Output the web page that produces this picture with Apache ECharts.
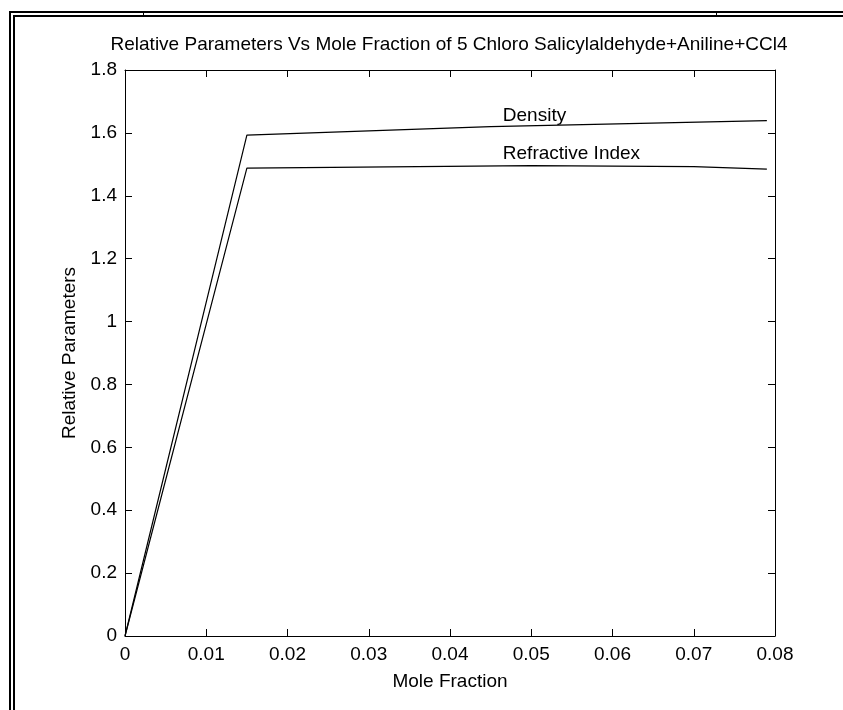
<!DOCTYPE html>
<html>
<head>
<meta charset="utf-8">
<script src="https://cdn.jsdelivr.net/npm/echarts@6/dist/echarts.min.js"></script>
<style>
  html, body { margin: 0; padding: 0; background: #fff; }
  #chart { width: 843px; height: 710px; }
</style>
</head>
<body>
<div id="chart"></div>
<script>
(function () {
    // data
    var moleFraction = [0, 0.015, 0.045, 0.079];
    var density = [0, 1.593, 1.620, 1.639];
    var riFraction = [0, 0.015, 0.05, 0.07, 0.079];
    var refractiveIndex = [0, 1.488, 1.496, 1.493, 1.485];
    // text annotations (data coordinates)
    var noteText = ['Density', 'Refractive Index'];
    var noteX = [0.0465, 0.0465];
    var noteY = [1.655, 1.534];

    var xTicks = { min: 0, max: 0.08, interval: 0.01 };
    var yTicks = { min: 0, max: 1.8, interval: 0.2 };

    var font = 'Liberation Sans, Arial, sans-serif';
    var ink = '#000';

    function pairs(xs, ys) {
        return xs.map(function (x, i) { return [x, ys[i]]; });
    }

    var myChart = echarts.init(document.getElementById('chart'));

    function axisBase(extra) {
        var a = {
            type: 'value',
            axisLine: { show: true, onZero: false, lineStyle: { color: ink, width: 1 } },
            axisTick: { show: true, inside: true, length: 7, lineStyle: { color: ink } },
            splitLine: { show: false },
            axisLabel: { show: false }
        };
        return Object.assign(a, extra);
    }

    var option = {
        animation: false,
        backgroundColor: '#fff',
        title: {
            text: 'Relative Parameters Vs Mole Fraction of 5 Chloro Salicylaldehyde+Aniline+CCl4',
            left: 444,
            top: 30,
            textAlign: 'center',
            textStyle: { fontFamily: font, fontSize: 19, fontWeight: 'normal', color: ink }
        },
        grid: { left: 125, top: 70, right: 68, bottom: 74, containLabel: false },
        xAxis: [
            axisBase({
                position: 'bottom',
                min: xTicks.min, max: xTicks.max, interval: xTicks.interval,
                name: 'Mole Fraction',
                nameLocation: 'middle',
                nameGap: 36,
                nameTextStyle: { fontFamily: font, fontSize: 19, color: ink },
                axisLabel: { show: true, margin: 9, fontFamily: font, fontSize: 19, color: ink }
            }),
            axisBase({
                position: 'top',
                min: xTicks.min, max: xTicks.max, interval: xTicks.interval
            })
        ],
        yAxis: [
            axisBase({
                position: 'left',
                min: yTicks.min, max: yTicks.max, interval: yTicks.interval,
                name: 'Relative Parameters',
                nameLocation: 'middle',
                nameGap: 44,
                nameTextStyle: { fontFamily: font, fontSize: 19, color: ink },
                axisLabel: { show: true, margin: 8, fontFamily: font, fontSize: 19, color: ink }
            }),
            axisBase({
                position: 'right',
                min: yTicks.min, max: yTicks.max, interval: yTicks.interval
            })
        ],
        graphic: [
            // double frame round the figure
            { type: 'line', shape: { x1: 10, y1: 11, x2: 10, y2: 710 }, style: { stroke: '#000', lineWidth: 2 } },
            { type: 'line', shape: { x1: 14, y1: 15, x2: 14, y2: 710 }, style: { stroke: '#000', lineWidth: 2 } },
            { type: 'line', shape: { x1: 9, y1: 12, x2: 843, y2: 12 }, style: { stroke: '#000', lineWidth: 2 } },
            { type: 'line', shape: { x1: 13, y1: 16, x2: 843, y2: 16 }, style: { stroke: '#000', lineWidth: 2 } },
            { type: 'line', shape: { x1: 143.5, y1: 12, x2: 143.5, y2: 16 }, style: { stroke: '#000', lineWidth: 1 } },
            { type: 'line', shape: { x1: 716.5, y1: 12, x2: 716.5, y2: 16 }, style: { stroke: '#000', lineWidth: 1 } }
        ],
        series: [
            {
                name: 'Density',
                type: 'line',
                data: pairs(moleFraction, density),
                symbol: 'none',
                lineStyle: { color: ink, width: 1.2 },
                silent: true
            },
            {
                name: 'Refractive Index',
                type: 'line',
                data: pairs(riFraction, refractiveIndex),
                symbol: 'none',
                lineStyle: { color: ink, width: 1.2 },
                silent: true
            },
            {
                name: 'notes',
                type: 'scatter',
                symbolSize: 0,
                silent: true,
                itemStyle: { color: ink },
                data: noteText.map(function (t, i) {
                    return { name: t, value: [noteX[i], noteY[i]] };
                }),
                label: {
                    show: true,
                    position: 'right',
                    distance: 0,
                    formatter: '{b}',
                    fontFamily: font,
                    fontSize: 19,
                    color: ink,
                    opacity: 1
                }
            }
        ]
    };
    myChart.setOption(option);
})();
</script>
</body>
</html>
